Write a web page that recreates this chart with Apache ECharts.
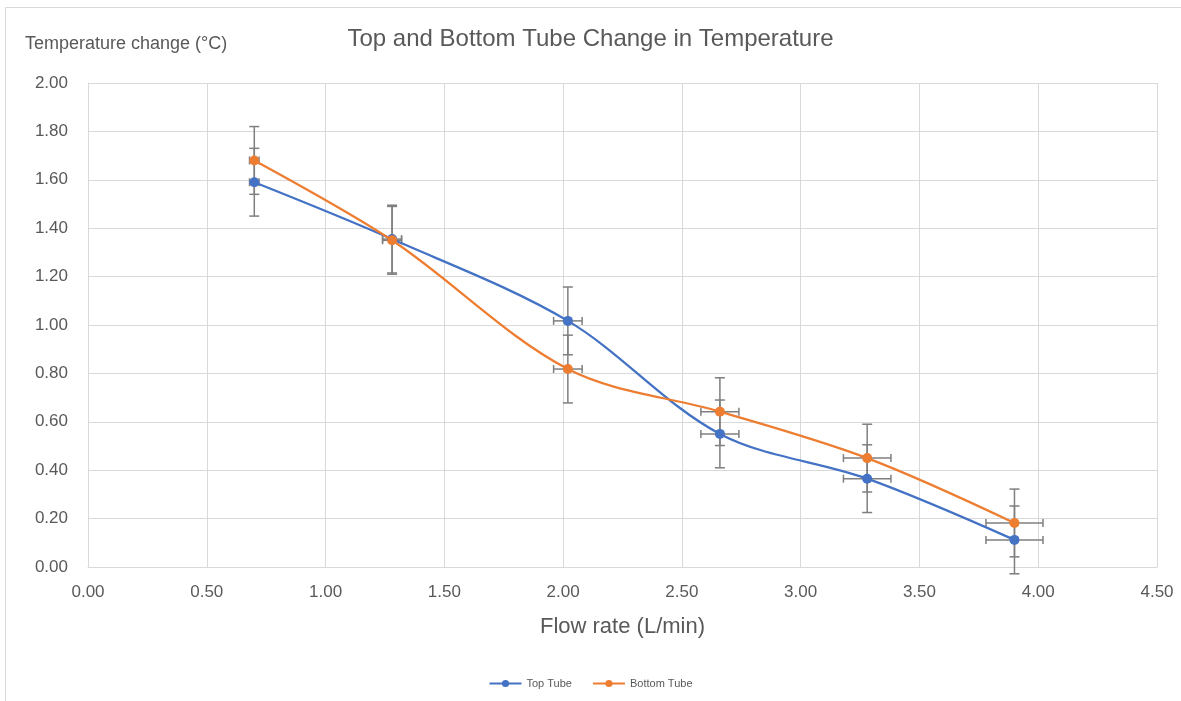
<!DOCTYPE html>
<html>
<head>
<meta charset="utf-8">
<script src="https://cdn.jsdelivr.net/npm/echarts@6/dist/echarts.min.js"></script>
<style>
  html, body { margin: 0; padding: 0; background: #fff; }
  #main { width: 1181px; height: 701px; }
</style>
</head>
<body>
<div id="main"></div>
<script>
// values
var flowRate   = [0.70, 1.28, 2.02, 2.66, 3.28, 3.90];
var topTube    = [1.59, 1.355, 1.017, 0.55, 0.365, 0.112];
var bottomTube = [1.68, 1.35, 0.818, 0.642, 0.45, 0.182];
var xError     = [0.02, 0.04, 0.06, 0.08, 0.10, 0.12];
var yError     = [0.14, 0.14, 0.14, 0.14, 0.14, 0.14];

var textColor = '#595959';
var gridColor = '#d9d9d9';
var font = 'Liberation Sans';

function pairs(ys) {
    return flowRate.map(function (x, i) { return [x, ys[i]]; });
}
function errData(ys) {
    return flowRate.map(function (x, i) { return [x, ys[i], xError[i], yError[i]]; });
}

// error bars drawn with the axes' own scales
function renderErr(params, api) {
    var x = api.value(0), y = api.value(1), ex = api.value(2), ey = api.value(3);
    var top = api.coord([x, y + ey]);
    var bot = api.coord([x, y - ey]);
    var lft = api.coord([x - ex, y]);
    var rgt = api.coord([x + ex, y]);
    var st = { stroke: '#7f7f7f', lineWidth: 1.5 };
    var cw = 5, ch = 4;
    return {
        type: 'group',
        children: [
            { type: 'line', shape: { x1: top[0], y1: top[1], x2: bot[0], y2: bot[1] }, style: st },
            { type: 'line', shape: { x1: top[0] - cw, y1: top[1], x2: top[0] + cw, y2: top[1] }, style: st },
            { type: 'line', shape: { x1: bot[0] - cw, y1: bot[1], x2: bot[0] + cw, y2: bot[1] }, style: st },
            { type: 'line', shape: { x1: lft[0], y1: lft[1], x2: rgt[0], y2: rgt[1] }, style: st },
            { type: 'line', shape: { x1: lft[0], y1: lft[1] - ch, x2: lft[0], y2: lft[1] + ch }, style: st },
            { type: 'line', shape: { x1: rgt[0], y1: rgt[1] - ch, x2: rgt[0], y2: rgt[1] + ch }, style: st }
        ]
    };
}

var chart = echarts.init(document.getElementById('main'));

var option = {
    backgroundColor: '#fff',
    animation: false,
    textStyle: { fontFamily: font },
    title: {
        text: 'Top and Bottom Tube Change in Temperature',
        left: 'center',
        top: 22,
        textStyle: { color: textColor, fontSize: 24, fontWeight: 'normal', fontFamily: font }
    },
    graphic: [
        {
            type: 'rect',
            shape: { x: 5.5, y: 7.5, width: 1200, height: 720 },
            style: { fill: 'none', stroke: gridColor, lineWidth: 1 },
            silent: true
        },
        {
            type: 'text',
            left: 25,
            top: 35,
            style: { text: 'Temperature change (°C)', fill: textColor, fontSize: 18, fontFamily: font }
        }
    ],
    legend: {
        bottom: 7,
        left: 'center',
        itemWidth: 32,
        itemHeight: 9,
        itemGap: 20,
        textStyle: { color: textColor, fontSize: 11 },
        data: ['Top Tube', 'Bottom Tube']
    },
    grid: { left: 88, right: 24, top: 83, bottom: 134 },
    xAxis: {
        type: 'value',
        min: 0, max: 4.5, interval: 0.5,
        name: 'Flow rate (L/min)',
        nameLocation: 'middle',
        nameGap: 49,
        nameTextStyle: { color: textColor, fontSize: 22 },
        axisLine: { lineStyle: { color: gridColor } },
        axisTick: { show: false },
        axisLabel: { color: textColor, fontSize: 17, margin: 17, formatter: function (v) { return v.toFixed(2); } },
        splitLine: { lineStyle: { color: gridColor } }
    },
    yAxis: {
        type: 'value',
        min: 0, max: 2, interval: 0.2,
        axisLine: { show: true, lineStyle: { color: gridColor } },
        axisTick: { show: false },
        axisLabel: { color: textColor, fontSize: 17, margin: 20, formatter: function (v) { return v.toFixed(2); } },
        splitLine: { lineStyle: { color: gridColor } }
    },
    series: [
        {
            type: 'custom',
            name: 'errTop',
            renderItem: renderErr,
            data: errData(topTube),
            z: 1,
            silent: true
        },
        {
            type: 'custom',
            name: 'errBottom',
            renderItem: renderErr,
            data: errData(bottomTube),
            z: 1,
            silent: true
        },
        {
            name: 'Top Tube',
            type: 'line',
            smooth: 0.33,
            data: pairs(topTube),
            symbol: 'circle',
            symbolSize: 10,
            lineStyle: { width: 2.25, color: '#4472C4' },
            itemStyle: { color: '#4472C4' },
            z: 3
        },
        {
            name: 'Bottom Tube',
            type: 'line',
            smooth: 0.33,
            data: pairs(bottomTube),
            symbol: 'circle',
            symbolSize: 10,
            lineStyle: { width: 2.25, color: '#ED7D31' },
            itemStyle: { color: '#ED7D31' },
            z: 4
        }
    ]
};

chart.setOption(option);
</script>
</body>
</html>
